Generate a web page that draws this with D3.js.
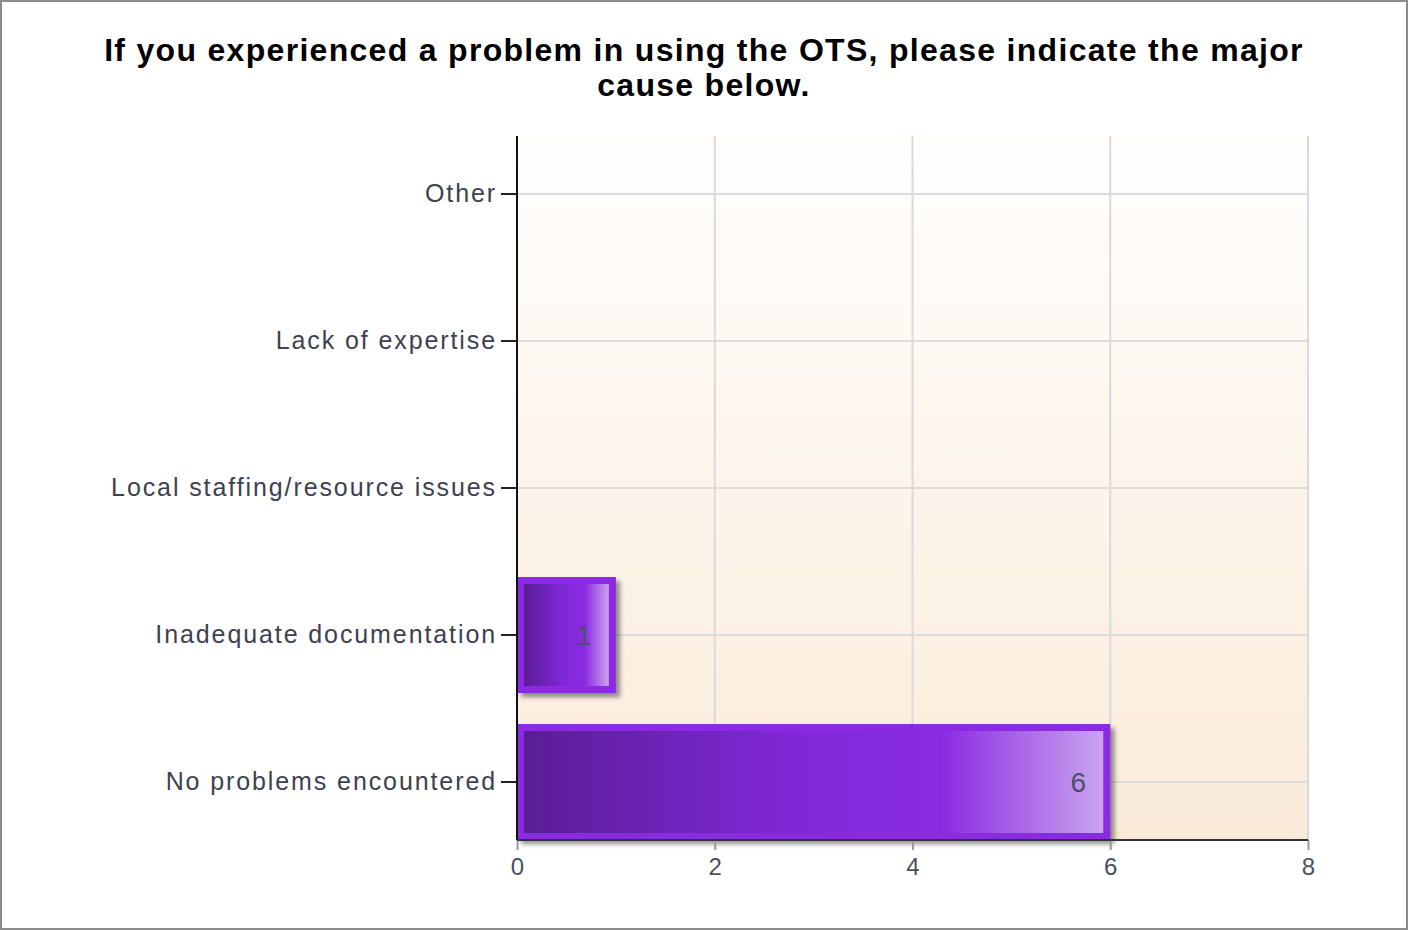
<!DOCTYPE html>
<html><head><meta charset="utf-8">
<script src="https://cdn.jsdelivr.net/npm/d3@7/dist/d3.min.js"></script>
<style>
html,body{margin:0;padding:0;background:#fff;}
svg{display:block;}
</style></head>
<body>
<svg id="chart" width="1408" height="930"></svg>
<script>
const titleLines = ["If you experienced a problem in using the OTS, please indicate the major", "cause below."];
const categories = ["Other", "Lack of expertise", "Local staffing/resource issues", "Inadequate documentation", "No problems encountered"];
const values = [0, 0, 0, 1, 6];
const xTicks = [0, 2, 4, 6, 8];

(function(){
const W = 1408, H = 930;
const svg = d3.select("#chart");
const pL = 517, pR = 1308, pT = 136, pB = 840;

const defs = svg.append("defs");
const bg = defs.append("linearGradient").attr("id","bgGrad").attr("x1",0).attr("y1",0).attr("x2",0).attr("y2",1);
bg.append("stop").attr("offset","0%").attr("stop-color","#fffefd");
bg.append("stop").attr("offset","100%").attr("stop-color","#faebd9");
const bar = defs.append("linearGradient").attr("id","barGrad").attr("x1",0).attr("y1",0).attr("x2",1).attr("y2",0);
bar.append("stop").attr("offset","0%").attr("stop-color","#5a1d96");
bar.append("stop").attr("offset","45%").attr("stop-color","#7f28d6");
bar.append("stop").attr("offset","72%").attr("stop-color","#8a2be2");
bar.append("stop").attr("offset","100%").attr("stop-color","#cba4ee");
const shadow = defs.append("filter").attr("id","shadow").attr("x","-10%").attr("y","-10%").attr("width","130%").attr("height","130%");
shadow.append("feGaussianBlur").attr("in","SourceAlpha").attr("stdDeviation",2.5);
shadow.append("feOffset").attr("dx",4).attr("dy",4).attr("result","ob");
shadow.append("feComponentTransfer").append("feFuncA").attr("type","linear").attr("slope",0.45);
const m = shadow.append("feMerge"); m.append("feMergeNode"); m.append("feMergeNode").attr("in","SourceGraphic");

svg.append("rect").attr("x",1).attr("y",1).attr("width",W-2).attr("height",H-2)
  .attr("fill","#fff").attr("stroke","#8c8c8c").attr("stroke-width",2);

svg.append("text").attr("x",704).attr("y",61).attr("text-anchor","middle")
  .attr("font-family","Liberation Sans, Arial, sans-serif").attr("font-weight","bold")
  .attr("font-size",32).attr("letter-spacing","1.3px").attr("fill","#000")
  .selectAll("tspan").data(titleLines).join("tspan")
  .attr("x",704).attr("dy",(d,i)=> i===0?0:35).text(d=>d);

const x = d3.scaleLinear().domain([0,8]).range([pL,pR]);
const y = d3.scaleBand().domain(categories).range([pT, pB]).paddingInner(0.211).paddingOuter(0);
const yc = d => y(d) + y.bandwidth()/2;

svg.append("rect").attr("x",pL).attr("y",pT).attr("width",pR-pL).attr("height",pB-pT).attr("fill","url(#bgGrad)");

svg.append("g").selectAll("line").data(xTicks.slice(1)).join("line")
  .attr("x1",d=>x(d)).attr("x2",d=>x(d)).attr("y1",pT).attr("y2",pB)
  .attr("stroke","#d9d9d9").attr("stroke-width",2);
svg.append("g").selectAll("line").data(categories).join("line")
  .attr("x1",pL).attr("x2",pR).attr("y1",d=>yc(d)).attr("y2",d=>yc(d))
  .attr("stroke","#dcdcdc").attr("stroke-width",2);

const bars = svg.append("g").selectAll("g").data(categories.map((c,i)=>({c,v:values[i]})).filter(d=>d.v>0)).join("g");
bars.append("rect").attr("x",x(0)).attr("y",d=>y(d.c)).attr("width",d=>x(d.v)-x(0)).attr("height",y.bandwidth())
  .attr("fill","#8a2be2").attr("filter","url(#shadow)");
bars.append("rect").attr("x",x(0)+7).attr("y",d=>y(d.c)+7).attr("width",d=>x(d.v)-x(0)-14).attr("height",y.bandwidth()-14)
  .attr("fill","url(#barGrad)");
bars.append("text").attr("x",d=>x(d.v)-32).attr("y",d=>yc(d.c)+10).attr("text-anchor","middle")
  .attr("font-family","Liberation Sans, Arial, sans-serif").attr("font-size",28).attr("fill","#4a4f6a").text(d=>d.v);

const yAxis = svg.append("g").attr("transform",`translate(${pL},0)`)
  .call(d3.axisLeft(y).tickSize(16).tickPadding(4));
yAxis.select(".domain").remove();
yAxis.selectAll(".tick line").attr("stroke","#222").attr("stroke-width",2);
yAxis.selectAll(".tick text").attr("font-family","Liberation Sans, Arial, sans-serif").attr("font-size",25)
  .attr("letter-spacing","1.9px").attr("fill","#3d4150");
svg.append("line").attr("x1",pL).attr("x2",pL).attr("y1",pT).attr("y2",pB).attr("stroke","#111").attr("stroke-width",2);

const xAxis = svg.append("g").attr("transform",`translate(0,${pB})`)
  .call(d3.axisBottom(x).tickValues(xTicks).tickSize(10).tickPadding(8));
xAxis.select(".domain").remove();
xAxis.selectAll(".tick line").attr("stroke","#9a9a9a").attr("stroke-width",2);
xAxis.selectAll(".tick text").attr("font-family","Liberation Sans, Arial, sans-serif").attr("font-size",24)
  .attr("fill","#4a5060");
svg.append("line").attr("x1",pL).attr("x2",pR).attr("y1",pB).attr("y2",pB).attr("stroke","#333").attr("stroke-width",2);
})();
</script>
</body></html>
